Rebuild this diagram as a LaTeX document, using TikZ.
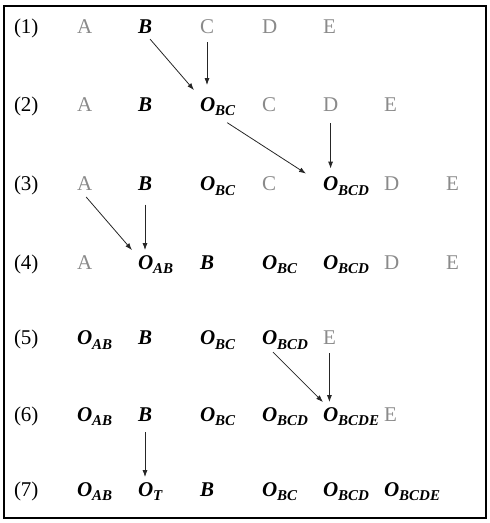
\documentclass[tikz,border=0pt]{standalone}
\usepackage{fontspec}
\setmainfont{Liberation Serif}
\usepackage{tikz}
\usetikzlibrary{arrows.meta}
\definecolor{faded}{RGB}{138,138,138}
\newcommand{\Osub}[1]{O\raisebox{-4.5pt}{\fontsize{15}{15}\selectfont #1}}

\begin{document}
\begin{tikzpicture}[x=1pt,y=1pt,yscale=-1,xscale=1,
  every node/.style={inner sep=0pt,outer sep=0pt,anchor=base west,font=\fontsize{21}{25}\selectfont},
  faded/.style={text=faded},
  picked/.style={font=\fontsize{21}{25}\selectfont\bfseries\itshape},
  link/.style={-{Latex[length=7pt,width=5pt]},line width=0.8pt,color=black!85}]
\useasboundingbox (0,0) rectangle (490,523);
% Frame
\draw [line width=2pt] (4,5.5) rectangle (486,518);

% Text Node
\node (lab1) at (14,33) {(1)};
% Text Node
\node [faded] (a1) at (77,33) {A};
% Text Node
\node [picked] (b1) at (138,33) {B};
% Text Node
\node [faded] (c1) at (200,33) {C};
% Text Node
\node [faded] (d1) at (262,33) {D};
% Text Node
\node [faded] (e1) at (323,33) {E};

% Text Node
\node (lab2) at (14,111) {(2)};
% Text Node
\node [faded] (a2) at (77,111) {A};
% Text Node
\node [picked] (b2) at (138,111) {B};
% Text Node
\node [picked] (obc2) at (200,111) {\Osub{BC}};
% Text Node
\node [faded] (c2) at (262,111) {C};
% Text Node
\node [faded] (d2) at (323,111) {D};
% Text Node
\node [faded] (e2) at (384,111) {E};

% Text Node
\node (lab3) at (14,190.5) {(3)};
% Text Node
\node [faded] (a3) at (77,190.5) {A};
% Text Node
\node [picked] (b3) at (138,190.5) {B};
% Text Node
\node [picked] (obc3) at (200,190.5) {\Osub{BC}};
% Text Node
\node [faded] (c3) at (262,190.5) {C};
% Text Node
\node [picked] (obcd3) at (323,190.5) {\Osub{BCD}};
% Text Node
\node [faded] (d3) at (384,190.5) {D};
% Text Node
\node [faded] (e3) at (446,190.5) {E};

% Text Node
\node (lab4) at (14,269) {(4)};
% Text Node
\node [faded] (a4) at (77,269) {A};
% Text Node
\node [picked] (oab4) at (138,269) {\Osub{AB}};
% Text Node
\node [picked] (b4) at (200,269) {B};
% Text Node
\node [picked] (obc4) at (262,269) {\Osub{BC}};
% Text Node
\node [picked] (obcd4) at (323,269) {\Osub{BCD}};
% Text Node
\node [faded] (d4) at (384,269) {D};
% Text Node
\node [faded] (e4) at (446,269) {E};

% Text Node
\node (lab5) at (14,344.5) {(5)};
% Text Node
\node [picked] (oab5) at (77,344.5) {\Osub{AB}};
% Text Node
\node [picked] (b5) at (138,344.5) {B};
% Text Node
\node [picked] (obc5) at (200,344.5) {\Osub{BC}};
% Text Node
\node [picked] (obcd5) at (262,344.5) {\Osub{BCD}};
% Text Node
\node [faded] (e5) at (323,344.5) {E};

% Text Node
\node (lab6) at (14,421) {(6)};
% Text Node
\node [picked] (oab6) at (77,421) {\Osub{AB}};
% Text Node
\node [picked] (b6) at (138,421) {B};
% Text Node
\node [picked] (obc6) at (200,421) {\Osub{BC}};
% Text Node
\node [picked] (obcd6) at (262,421) {\Osub{BCD}};
% Text Node
\node [picked] (obcde6) at (323,421) {\Osub{BCDE}};
% Text Node
\node [faded] (e6) at (384,421) {E};

% Text Node
\node (lab7) at (14,496) {(7)};
% Text Node
\node [picked] (oab7) at (77,496) {\Osub{AB}};
% Text Node
\node [picked] (ot7) at (138,496) {\Osub{T}};
% Text Node
\node [picked] (b7) at (200,496) {B};
% Text Node
\node [picked] (obc7) at (262,496) {\Osub{BC}};
% Text Node
\node [picked] (obcd7) at (323,496) {\Osub{BCD}};
% Text Node
\node [picked] (obcde7) at (384,496) {\Osub{BCDE}};

% Connection
\draw [link] ([shift={(-2,6)}]b1.south east) -- ([shift={(-6,-7)}]obc2.north west);
% Connection
\draw [link,shorten <=9pt,shorten >=12pt] (c1) -- (c1 |- obc2.north);
% Connection
\draw [link] ([shift={(-8,7)}]obc2.south east) -- ([shift={(-17,-3)}]obcd3.north west);
% Connection
\draw [link,shorten <=12pt,shorten >=8pt] (d2) -- (d2 |- obcd3.north);
% Connection
\draw [link] ([shift={(-6,6.5)}]a3.south east) -- ([shift={(-6,-5)}]oab4.north west);
% Connection
\draw [link,shorten <=14pt,shorten >=5pt] (b3) -- (b3 |- oab4.north);
% Connection
\draw [link] ([shift={(11,3)}]obcd5.south west) -- ([shift={(0,-5)}]obcde6.north west);
% Connection
\draw [link,shorten <=8.5pt,shorten >=5pt] (e5) -- (e5 |- obcde6.north);
% Connection
\draw [link,shorten <=11pt,shorten >=5pt] (b6) -- (b6 |- ot7.north);

\end{tikzpicture}
\end{document}
